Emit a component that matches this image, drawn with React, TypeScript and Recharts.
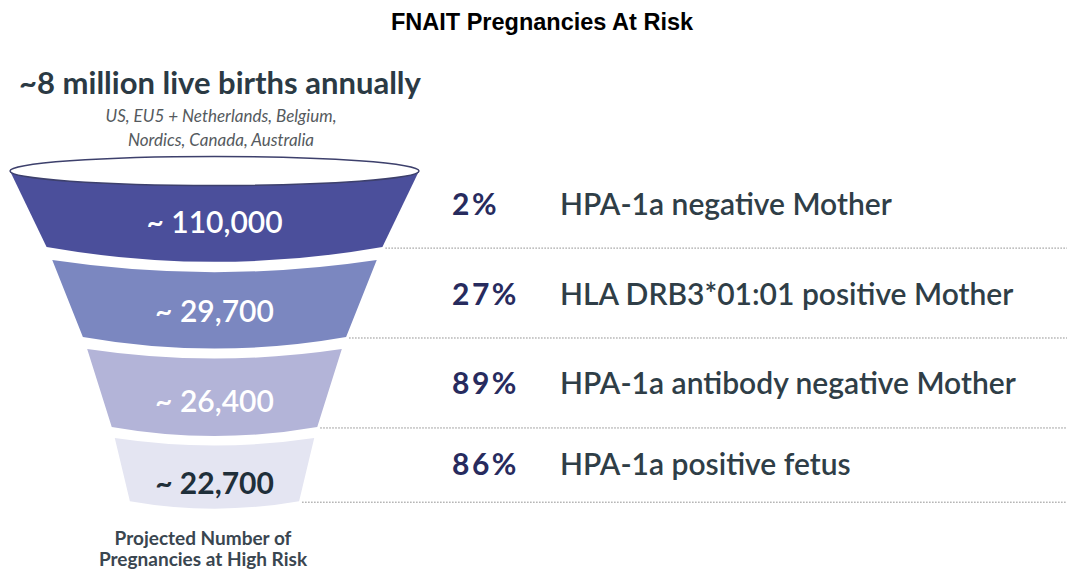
import { BarChart, Bar, XAxis, YAxis } from "recharts";

// funnel stages, top to bottom
const stageKeys = ["hpa1aNeg", "drb3Pos", "antibodyNeg", "fetusPos"];
const stageCounts = [110000, 29700, 26400, 22700];
const countLabels = ["~ 110,000", "~ 29,700", "~ 26,400", "~ 22,700"];
const stageRates = ["2%", "27%", "89%", "86%"];
const stageCriteria = [
  "HPA-1a negative Mother",
  "HLA DRB3*01:01 positive Mother",
  "HPA-1a antibody negative Mother",
  "HPA-1a positive fetus",
];

const headline = "~8 million live births annually";
const regionLines = ["US, EU5 + Netherlands, Belgium,", "Nordics, Canada, Australia"];
const captionLines = ["Projected Number of", "Pregnancies at High Risk"];

const data = stageKeys.map((key, i) => ({
  stage: key,
  count: stageCounts[i],
  countLabel: countLabels[i],
  rate: stageRates[i],
  criterion: stageCriteria[i],
}));

const W = 1067;
const H = 571;
const FUNNEL_LEFT = 11;
const FUNNEL_WIDTH = 407;
const FUNNEL_TOP = 171;
const ROWS_HEIGHT = 356;

const SEG_FILLS = ["#4b4f9b", "#7b87c0", "#b3b4d8", "#e4e5f2"];
const SEG_HEIGHT = [0.855, 0.865, 0.876, 0.71];
const COUNT_COLORS = ["#ffffff", "#ffffff", "#ffffff", "#1f2f3a"];
const FONT = "Lato, 'Open Sans', sans-serif";

// funnel outline narrows a little less with every step down
function halfWidth(t: number) {
  return 204.5 - 0.516 * t + 0.000463 * t * t;
}

function FunnelSegment(props: any) {
  const { x, y, height, payload } = props;
  const i = props.index ?? stageCounts.indexOf(payload.count);
  const cx = x + FUNNEL_WIDTH / 2;
  const segH = height * SEG_HEIGHT[i];
  const yTop = y;
  const yBot = y + segH;
  const hwTop = halfWidth(yTop - FUNNEL_TOP);
  const hwBot = halfWidth(yBot - FUNNEL_TOP);
  const bowTop = i === 0 ? 0 : hwTop * 0.075;
  const bowBot = hwBot * 0.088;

  const d = [
    `M ${cx - hwTop} ${yTop}`,
    `Q ${cx} ${yTop + 2 * bowTop} ${cx + hwTop} ${yTop}`,
    `L ${cx + hwBot} ${yBot}`,
    `Q ${cx} ${yBot + 2 * bowBot} ${cx - hwBot} ${yBot}`,
    "Z",
  ].join(" ");

  const lineY = yBot + 1;
  const textY = yTop + segH * 0.58;

  return (
    <g>
      <path d={d} fill={SEG_FILLS[i]} />
      {i === 0 && (
        <ellipse cx={cx} cy={yTop} rx={hwTop} ry={14.5} fill="#ffffff" stroke="#3d406c" strokeWidth={1.5} />
      )}
      <text
        x={cx}
        y={yTop + segH / 2 + 24}
        textAnchor="middle"
        fontFamily={FONT}
        fontWeight={i === 3 ? 700 : 600}
        fontSize={30}
        fill={COUNT_COLORS[i]}
      >
        {payload.countLabel}
      </text>
      <line
        x1={cx + hwBot + 3}
        x2={W}
        y1={lineY}
        y2={lineY}
        stroke="#8a8a8a"
        strokeWidth={1}
        strokeDasharray="1.5 1.5"
      />
      <text
        x={452}
        y={textY}
        fontFamily={FONT}
        fontWeight={700}
        fontSize={30}
        letterSpacing={2.5}
        fill="#272b5e"
      >
        {payload.rate}
      </text>
      <text x={560} y={textY} fontFamily={FONT} fontWeight={600} fontSize={30} fill="#2f3e47">
        {payload.criterion}
      </text>
    </g>
  );
}

export default function App() {
  return (
    <div style={{ position: "absolute", left: 0, top: 0, width: W, height: H, background: "#ffffff" }}>
      <BarChart
        width={W}
        height={H}
        data={data}
        layout="vertical"
        barCategoryGap={0}
        margin={{
          top: FUNNEL_TOP,
          right: W - FUNNEL_LEFT - FUNNEL_WIDTH,
          bottom: H - FUNNEL_TOP - ROWS_HEIGHT,
          left: FUNNEL_LEFT,
        }}
      >
        <XAxis type="number" hide domain={[0, stageCounts[0]]} />
        <YAxis type="category" dataKey="stage" hide />
        <Bar dataKey="count" shape={FunnelSegment} isAnimationActive={false} />

        <text
          x={542}
          y={30}
          textAnchor="middle"
          fontFamily="'Liberation Sans', Arial, sans-serif"
          fontWeight={700}
          fontSize={23.5}
          fill="#000000"
        >
          FNAIT Pregnancies At Risk
        </text>
        <text x={220} y={94} textAnchor="middle" fontFamily={FONT} fontWeight={700} fontSize={31} fill="#2b3a44">
          {headline}
        </text>
        {regionLines.map((line, k) => (
          <text
            key={line}
            x={221}
            y={122 + k * 24}
            textAnchor="middle"
            fontFamily={FONT}
            fontStyle="italic"
            fontSize={17}
            fill="#555a5e"
          >
            {line}
          </text>
        ))}
        {captionLines.map((line, k) => (
          <text
            key={line}
            x={203}
            y={545 + k * 21}
            textAnchor="middle"
            fontFamily={FONT}
            fontWeight={700}
            fontSize={19}
            fill="#3a4650"
          >
            {line}
          </text>
        ))}
      </BarChart>
    </div>
  );
}
